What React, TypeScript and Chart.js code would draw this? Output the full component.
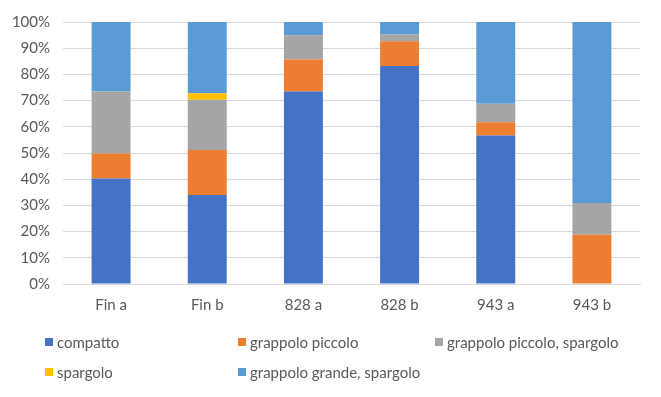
import React, { useEffect, useRef } from "react";
import { Chart, registerables } from "chart.js";

Chart.register(...registerables);

const categories = ["Fin a", "Fin b", "828 a", "828 b", "943 a", "943 b"];
const seriesNames = [
  "compatto",
  "grappolo piccolo",
  "grappolo piccolo, spargolo",
  "spargolo",
  "grappolo grande, spargolo",
];
const compatto = [40.3, 34.0, 73.5, 83.2, 56.7, 0];
const grappoloPiccolo = [9.5, 17.1, 12.2, 9.5, 5.0, 18.8];
const grappoloPiccoloSpargolo = [23.7, 19.2, 9.2, 2.5, 7.1, 12.1];
const spargolo = [0, 2.5, 0, 0, 0, 0];
const grappoloGrandeSpargolo = [26.5, 27.2, 5.1, 4.8, 31.2, 69.1];
const seriesColors = ["#4472C4", "#ED7D31", "#A5A5A5", "#FFC000", "#5B9BD5"];
const seriesValues = [compatto, grappoloPiccolo, grappoloPiccoloSpargolo, spargolo, grappoloGrandeSpargolo];

const FONT = "Lato, 'Open Sans', sans-serif";
const TEXT = "#595959";

export default function App() {
  const ref = useRef<HTMLCanvasElement | null>(null);
  useEffect(() => {
    if (!ref.current) return;
    const chart = new Chart(ref.current, {
      type: "bar",
      data: {
        labels: categories,
        datasets: seriesNames.map((name, i) => ({
          label: name,
          data: seriesValues[i],
          backgroundColor: seriesColors[i],
          borderWidth: 0,
          categoryPercentage: 1,
          barPercentage: 0.405,
        })),
      },
      options: {
        animation: false,
        responsive: false,
        layout: { padding: { top: 20, right: 21, left: 0, bottom: 0 } },
        plugins: { legend: { display: false }, tooltip: { enabled: false } },
        scales: {
          x: {
            stacked: true,
            grid: { display: false, drawTicks: false },
            border: { display: true, color: "#d9d9d9", width: 1 },
            ticks: { color: TEXT, font: { family: FONT, size: 15 }, padding: 12 },
            afterFit: (s: any) => {
              s.height = 113;
            },
          },
          y: {
            stacked: true,
            min: 0,
            max: 100,
            grid: { color: "#d9d9d9", lineWidth: 1, drawTicks: false },
            border: { display: false },
            ticks: {
              stepSize: 10,
              color: TEXT,
              font: { family: FONT, size: 15 },
              padding: 13,
              callback: (v: any) => v + "%",
            },
            afterFit: (s: any) => {
              s.width = 63;
            },
          },
        },
      },
    });
    return () => chart.destroy();
  }, []);

  const legendPos = [
    { left: 45, top: 342 },
    { left: 238, top: 342 },
    { left: 435, top: 342 },
    { left: 45, top: 372 },
    { left: 238, top: 372 },
  ];

  return (
    <div style={{ position: "fixed", left: 0, top: 0, width: 661, height: 397, background: "#fff" }}>
      <canvas ref={ref} width={661} height={397} style={{ width: 661, height: 397, display: "block" }} />
      {seriesNames.map((name, i) => (
        <div
          key={name}
          style={{
            position: "absolute",
            left: legendPos[i].left,
            top: legendPos[i].top - 10,
            height: 20,
            display: "flex",
            alignItems: "center",
            fontFamily: FONT,
            fontSize: 15,
            color: TEXT,
            whiteSpace: "nowrap",
          }}
        >
          <span style={{ display: "inline-block", width: 8, height: 8, background: seriesColors[i], marginRight: 4 }} />
          <span>{name}</span>
        </div>
      ))}
    </div>
  );
}
